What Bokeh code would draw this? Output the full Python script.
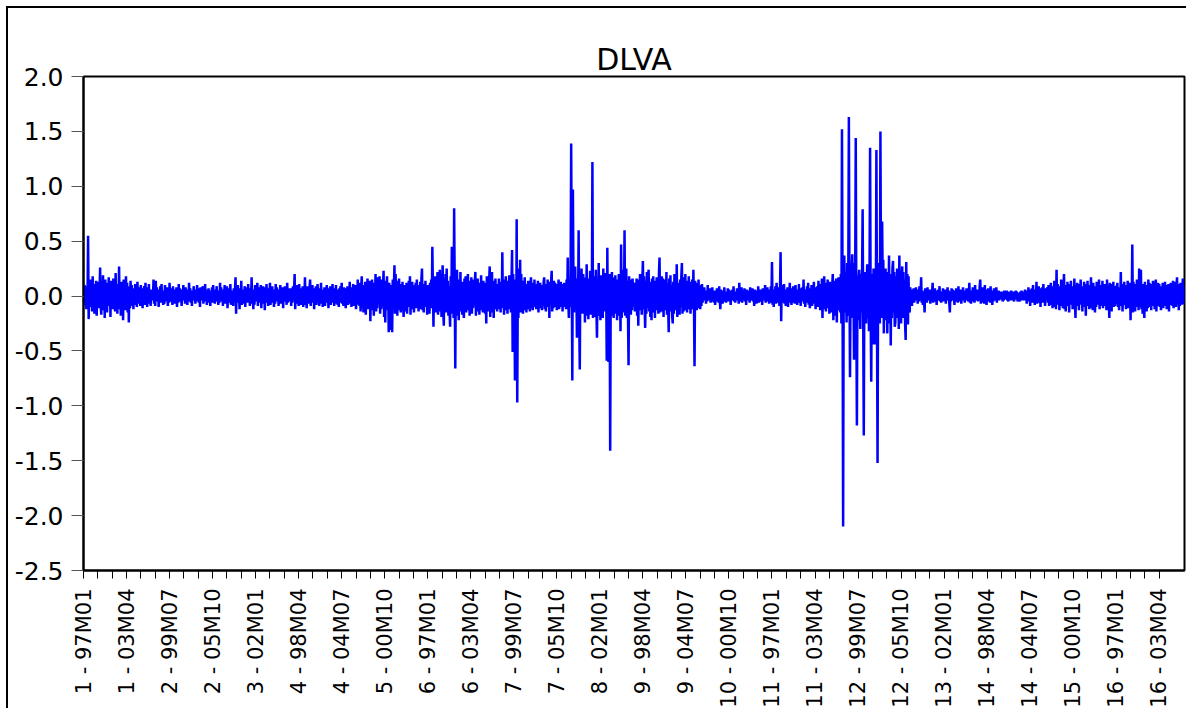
import math
from bokeh.plotting import figure
from bokeh.models import (ColumnDataSource, FixedTicker, Range1d, PrintfTickFormatter,
                          Title, LinearAxis)
from bokeh.embed import file_html
from bokeh.resources import INLINE

title_text = "DLVA"
obs_per_panel = 120

# DLVA values per cross-section (hundredths), 120 monthly obs each (97M01-06M12)
p01 = [5,-8,10,-4,9,-12,6,-3,55,-21,12,-6,15,-10,4,-14,18,-8,11,-16,
       7,-5,14,-18,9,-3,13,-11,6,26,-9,-17,10,-6,19,-13,8,-20,15,-7,
       12,-15,5,-9,17,-4,10,-19,14,-8,6,-12,16,-5,9,-14,21,-10,7,-16,
       11,-6,27,-12,8,-18,13,-4,10,-22,15,-9,6,-13,18,-7,12,-15,9,-24,
       8,-11,14,-6,10,-9,5,-12,7,-4,11,-8,6,-10,13,-5,8,-7,4,-9,
       10,-6,5,-11,7,-3,9,-8,12,-5,6,-10,8,-4,11,-7,5,-9,6,-4]
p02 = [6,-4,15,-7,3,-9,14,-5,8,-3,6,-10,4,-2,9,-6,11,-4,5,-8,
       3,-7,10,-5,6,-2,8,-9,4,-6,12,-3,7,-5,2,-8,9,-4,6,-7,
       5,-3,8,-10,4,-6,11,-2,7,-5,3,-9,6,-4,10,-3,5,-7,8,-2,
       4,-8,6,-5,12,-3,7,-6,3,-9,5,-4,9,-2,6,-7,4,-5,10,-3,
       7,-6,3,-10,8,-4,5,-2,9,-7,4,-5,11,-3,6,-8,3,-4,7,-6,
       5,-9,4,-3,8,-6,10,-4,3,-7,6,-5,9,-2,5,-8,4,-6,12,-5]
p03 = [8,-5,4,-9,6,-3,10,-7,5,-4,9,-11,3,-6,7,-2,11,-8,5,-6,
       4,-9,7,-5,6,17,-16,8,-4,10,-6,3,-12,7,-5,14,-8,4,-7,6,
       -3,9,-10,5,-4,8,-6,11,-3,7,-9,4,-5,17,-7,6,-12,3,-8,10,
       -4,7,-5,12,-9,4,-6,8,-3,10,-11,5,-7,9,-4,6,-13,8,-5,11,
       -6,4,-9,7,-3,12,-8,5,-6,9,-4,6,-10,3,-7,11,-5,8,-4,6,
       -9,5,-3,10,-7,4,-6,8,-11,6,-4,9,-5,3,-8,12,-6,7,-4,5]
p04 = [-5,7,-9,4,-6,9,-4,6,20,-12,8,-5,10,-7,3,-9,11,-6,5,-8,
       7,-4,9,-10,6,-3,17,-8,5,-11,9,-6,4,-7,8,15,-9,5,-6,10,
       -4,7,-12,6,-5,9,-8,3,11,-6,5,-9,7,-4,12,-7,6,-10,4,-5,
       8,-9,6,-3,10,-6,5,-11,7,-4,9,-8,4,-6,11,-5,7,-9,3,-7,
       10,-5,6,-8,4,-10,7,-3,9,-6,12,-7,5,-9,8,-4,6,-11,7,-5,
       9,-8,4,-6,13,-7,5,-10,8,-4,11,-9,6,-5,10,-12,7,-6,15,-8]
p05 = [12,-9,6,-14,8,18,-11,7,-15,10,-6,13,-17,9,-8,16,-12,5,-10,14,
       -23,11,-7,15,-13,8,-18,12,-9,20,-14,6,-11,17,-8,13,18,-16,9,-12,
       15,-10,7,23,-19,11,-24,14,-9,18,-13,8,-33,12,-28,6,-31,10,-33,15,
       -12,9,28,-16,20,-10,14,-18,7,-13,16,-9,11,-15,8,-12,13,-7,-19,10,
       -14,9,-8,12,-16,7,-10,14,-6,18,-17,11,-9,13,-12,8,-15,10,-7,12,
       -11,15,-9,6,-14,10,-8,13,-12,16,25,-13,9,-15,11,-7,14,-10,8,-17]
p06 = [10,-13,8,-16,12,-9,15,-11,45,7,-28,14,-10,18,-15,9,-12,22,-17,11,
       -8,24,-14,13,-19,10,28,-12,-27,16,-9,20,-15,25,-11,14,-18,9,-13,-28,
       18,-16,45,-12,22,-20,80,10,-66,19,-15,24,-18,12,-22,15,-10,22,-14,9,
       -17,13,-11,-20,16,-9,18,-15,11,-13,20,-8,14,-18,10,-12,17,-16,8,-11,
       15,-9,13,22,-18,10,-14,16,-12,9,-17,12,-8,19,-13,11,-15,14,-10,8,
       -16,12,-25,18,-11,9,-14,13,27,-19,10,-12,22,-15,8,-20,14,-9,16,-12]
p07 = [9,-14,11,-8,16,-12,7,-15,13,-9,40,-11,15,-17,9,-13,18,-10,12,-16,
       14,-8,19,-12,10,-15,13,42,-51,20,-30,15,-77,10,-75,70,-97,10,-20,25,
       -10,33,-15,20,-10,14,-16,9,-12,17,-13,8,-15,11,-9,14,-12,7,-14,10,
       17,-11,8,-13,12,-9,15,-10,6,-12,11,-8,14,-15,9,-7,12,-11,8,-13,
       10,-9,13,17,-12,8,-14,11,-7,15,-10,9,-20,13,-8,12,23,-14,9,-11,
       14,-8,12,-10,7,-13,11,-9,15,-12,8,-10,13,-7,11,-14,9,-6,12,-10]
p08 = [8,-12,15,-9,35,-6,-20,12,-10,18,139,20,-77,97,10,-15,22,27,-12,16,
       -38,14,-9,60,-20,-67,18,-11,25,10,-16,20,-13,17,-24,12,-15,29,-18,14,
       -21,16,-12,23,-17,10,-14,122,-20,18,-15,11,-19,24,-13,-38,16,-12,30,-18,
       14,-22,19,-16,12,-20,25,-14,17,-11,21,10,-59,44,-30,-60,10,20,-141,15,
       -18,22,-13,17,-20,14,-11,19,-16,12,-22,15,-18,20,-14,11,-32,47,-20,16,
       -12,24,-15,60,-18,13,25,-20,14,-16,-63,18,-12,15,-17,10,-13,16,-10,12]
p09 = [10,-14,12,-9,16,-18,8,-27,15,-11,20,-13,9,-17,14,32,-12,18,-10,-29,
       14,-16,22,-11,17,24,-14,9,-19,13,-22,16,-10,18,-15,12,-20,14,-9,17,
       -13,11,-16,21,35,-15,10,-12,18,-14,16,-19,9,-13,15,-11,22,-17,12,-8,
       -33,16,-12,19,-14,10,-18,-25,13,-16,20,-11,15,-13,29,-19,12,-14,10,-17,
       15,-10,18,30,-16,12,-14,17,-11,20,-13,9,-15,14,-12,18,-10,13,-16,11,
       -9,15,-12,24,-8,-64,14,-10,12,-13,9,-11,15,-8,10,-12,7,-9,11,-6]
p10 = [6,-4,8,-3,5,-7,3,-5,10,-4,6,-2,7,-6,4,-3,8,-5,3,-6,
       5,-8,4,-3,7,-5,2,-6,9,-4,-12,6,-3,5,-7,4,-2,8,-5,3,
       -6,4,-3,7,-5,6,-4,3,-8,5,-2,6,-4,9,-5,3,-6,4,-3,7,
       -4,5,-7,12,-5,3,-4,8,-6,2,5,-3,7,-5,4,-8,6,-3,5,-4,
       3,-6,8,-4,5,-3,7,-5,4,-9,6,-2,5,-7,3,-4,9,-6,4,-3,
       6,-5,3,-8,7,-4,5,-3,10,-6,4,-5,8,-3,6,-7,5,-4,9,-6]
p11 = [31,-8,6,-10,5,-4,9,-7,12,-5,8,-6,4,-9,7,40,-23,10,-6,8,
       -5,11,-7,4,-9,6,-3,8,-10,5,-6,12,-4,7,-8,3,-5,9,-6,4,
       -7,10,-5,3,-8,6,-4,11,-6,5,-9,7,-3,8,-5,15,-7,4,-10,6,
       -4,9,-6,12,-8,5,-11,7,-4,10,-9,6,-5,13,-7,8,-12,5,-6,9,
       -10,14,-8,6,-13,11,-7,16,-20,9,-12,18,-10,7,-14,12,-9,15,-11,8,
       -16,13,-9,11,-15,10,20,-22,14,-12,9,-18,16,-24,11,-13,17,-10,12,-15]
p12 = [20,-25,152,10,-210,18,37,-15,22,12,-24,30,-18,15,163,20,-74,12,-20,25,
       38,-15,10,-58,30,20,144,-10,-118,18,-22,15,24,-12,-30,20,-15,17,79,-20,
       -127,15,-18,22,-25,12,29,-20,14,-32,18,135,-15,-78,20,-12,-44,25,-30,-44,
       18,-15,133,-20,-152,22,-18,30,-25,150,15,-20,68,10,33,-34,20,-15,25,-22,
       15,-34,22,-18,37,-25,20,-45,18,-20,26,32,-15,22,-28,-24,18,-20,25,-15,
       20,-30,37,-22,18,-25,15,27,-20,22,-18,15,-25,-40,31,-15,20,-26,18,-12]
p13 = [-15,8,-5,6,-9,4,-3,7,-6,5,-4,8,-3,6,-7,4,-5,9,-4,3,
       17,-6,5,-8,4,-3,-15,7,-5,3,-6,8,-4,5,-3,6,-7,4,-5,3,
       12,-6,4,-3,7,-5,3,-8,5,-4,6,-3,9,-5,4,-6,3,-4,7,-5,
       4,-3,6,-7,5,-4,8,-3,5,-6,-15,4,-5,7,-3,6,-4,5,-8,3,
       -5,7,-4,3,-6,9,-5,4,-3,6,-7,5,-4,8,-3,4,-6,5,-3,7,
       -4,6,-5,3,12,-6,4,-7,5,-3,8,-5,4,-6,10,-4,5,-3,6,-5]
p14 = [6,-4,9,15,-7,5,-6,8,-4,3,-7,10,-5,4,-8,6,-3,7,-5,4,
       -6,9,-4,5,-8,3,-5,7,-3,6,-4,8,-6,4,-4,5,-4,4,-3,4,
       -3,4,-5,3,-4,5,-3,4,-2,5,-4,3,-5,4,-3,2,-4,5,-3,4,
       -4,3,-5,4,-2,5,-3,4,-5,3,-4,2,-5,4,-3,5,-4,3,-2,4,
       -4,6,-3,5,-7,4,-5,8,-3,6,-9,5,-4,7,-6,10,-5,4,-8,6,
       -5,13,-7,4,-6,9,-4,7,-10,5,-3,8,-6,11,-5,4,-9,7,-4,6]
p15 = [8,-6,10,-9,5,-7,12,-8,6,-11,9,-5,14,-10,7,-12,24,-8,11,-6,
       9,-13,7,-5,15,-9,6,-11,8,20,-12,5,-14,10,-7,13,-9,6,-15,11,
       -8,14,-6,9,-12,7,-10,16,-5,-20,10,-7,12,-9,6,-13,11,-8,15,-6,
       9,-14,7,-10,13,-5,8,-18,11,-7,14,-9,6,-12,10,-6,17,-11,8,-13,
       12,-7,9,-15,6,-10,13,-8,11,-6,15,-12,7,-9,10,-5,14,-11,8,-7,
       11,-9,6,-13,15,-8,10,-6,-20,12,-7,9,-14,11,-5,13,-10,7,-9,8]
p16 = [9,-7,12,-10,6,-13,8,-5,22,-9,11,-14,7,-8,13,-6,10,-12,9,-7,
       14,-11,8,-6,12,-22,10,-9,47,-15,13,-8,11,-14,9,-10,15,-7,12,-13,
       25,-10,14,24,-12,9,-16,11,-8,-20,13,-9,10,-14,8,-11,15,-6,12,-10,
       9,-13,11,-7,14,-9,8,-12,10,15,-14,7,-9,12,-6,11,-10,8,-13,9,
       -7,12,-11,6,-9,13,-8,10,-12,7,-6,11,-14,9,-8,12,-7,10,-9,14,
       -11,8,-6,13,-10,9,17,-8,11,-13,7,-9,12,-6,10,-8,16,-7,9,-5]

panels = [p01, p02, p03, p04, p05, p06, p07, p08,
          p09, p10, p11, p12, p13, p14, p15, p16]

tick_labels = ["1 - 97M01", "1 - 03M04", "2 - 99M07", "2 - 05M10", "3 - 02M01",
               "4 - 98M04", "4 - 04M07", "5 - 00M10", "6 - 97M01", "6 - 03M04",
               "7 - 99M07", "7 - 05M10", "8 - 02M01", "9 - 98M04", "9 - 04M07",
               "10 - 00M10", "11 - 97M01", "11 - 03M04", "12 - 99M07", "12 - 05M10",
               "13 - 02M01", "14 - 98M04", "14 - 04M07", "15 - 00M10", "16 - 97M01",
               "16 - 03M04"]
label_step = 75
minor_step = 25
y_ticks = [-2.5, -2.0, -1.5, -1.0, -0.5, 0.0, 0.5, 1.0, 1.5, 2.0]

xs, ys = [], []
for k, vals in enumerate(panels):
    for i, v in enumerate(vals):
        xs.append(k * obs_per_panel + i)
        ys.append(v / 100.0)
n_obs = len(panels) * obs_per_panel

src = ColumnDataSource(data=dict(x=xs, y=ys))

FONT = "DejaVu Sans"

p = figure(width=1180, height=702, title=None,
           x_range=Range1d(0, n_obs - 1), y_range=Range1d(-2.5, 2.0),
           output_backend="svg", toolbar_location=None,
           min_border_left=75, min_border_right=4,
           min_border_top=68, min_border_bottom=138)
p.styles = {"margin-left": "8px", "margin-top": "8px",
            "box-shadow": "-2px -2px 0 0 #000000"}
p.background_fill_color = "white"
p.border_fill_color = "white"
p.outline_line_color = "black"
p.outline_line_width = 2
p.xgrid.visible = False
p.ygrid.visible = False

# main x axis (below) and y axis, grabbed before adding the spacer axis
xa = p.below[0]
ya = p.left[0]

# invisible tick-less axis used as a spacer between frame and title
spacer_axis = LinearAxis(ticker=FixedTicker(ticks=[]), axis_line_color=None,
                         major_tick_out=31, major_tick_in=0,
                         major_tick_line_color=None, minor_tick_line_color=None,
                         major_label_standoff=0, axis_label_standoff=0,
                         major_label_text_font_size="0px")
p.add_layout(spacer_axis, "above")
main_title = Title(text=title_text, align="center", text_font=FONT,
                   text_font_size="30px", text_font_style="normal",
                   text_color="black", standoff=0)
p.add_layout(main_title, "above")

p.line("x", "y", source=src, line_color="#0000FF", line_width=2.5)

# x axis
all_ticks = list(range(0, n_obs - minor_step + 1, minor_step))
overrides = {}
for t in all_ticks:
    if t % label_step == 0 and t // label_step < len(tick_labels):
        overrides[t] = tick_labels[t // label_step]
    else:
        overrides[t] = ""
xa.ticker = FixedTicker(ticks=all_ticks)
xa.major_label_overrides = overrides
xa.major_label_orientation = math.pi / 2
xa.major_label_text_font = FONT
xa.major_label_text_font_size = "21px"
xa.major_label_text_color = "black"
xa.major_label_standoff = 10
xa.major_tick_out = 8
xa.major_tick_in = 0
xa.major_tick_line_color = "black"
xa.minor_tick_line_color = None
xa.axis_line_color = "black"
xa.axis_line_width = 2

# y axis
ya.ticker = FixedTicker(ticks=y_ticks)
ya.formatter = PrintfTickFormatter(format="%.1f")
ya.major_label_text_font = FONT
ya.major_label_text_font_size = "25px"
ya.major_label_text_color = "black"
ya.major_label_standoff = 8
ya.major_tick_out = 12
ya.major_tick_in = 0
ya.major_tick_line_color = "#555555"
ya.minor_tick_line_color = None
ya.axis_line_color = "black"
ya.axis_line_width = 2

open("out.html", "w").write(file_html(p, INLINE))
